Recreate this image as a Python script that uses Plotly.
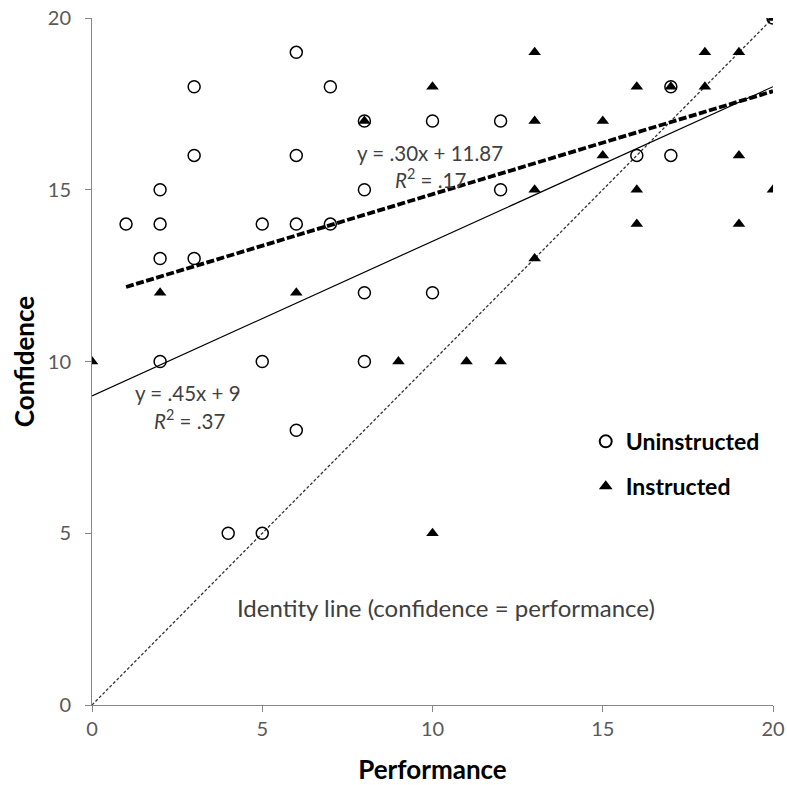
import plotly.graph_objects as go

# Uninstructed (open circles)
uninstr_perf = [1, 2, 2, 2, 2, 3, 3, 3, 4, 5, 5, 5, 6, 6, 6, 6, 7, 7, 8, 8, 8, 8, 10, 10, 12, 12, 16, 17, 17, 20]
uninstr_conf = [14, 15, 14, 13, 10, 18, 16, 13, 5, 14, 10, 5, 19, 16, 14, 8, 18, 14, 17, 15, 12, 10, 17, 12, 17, 15, 16, 18, 16, 20]

# Instructed (filled triangles)
instr_perf = [0, 2, 6, 8, 9, 10, 10, 11, 12, 13, 13, 13, 13, 15, 15, 16, 16, 16, 17, 18, 18, 19, 19, 19, 20, 20]
instr_conf = [10, 12, 12, 17, 10, 18, 5, 10, 10, 19, 17, 15, 13, 17, 16, 18, 15, 14, 18, 19, 18, 19, 16, 14, 20, 15]

# Trend line coefficients (slope, intercept)
uninstr_fit = (0.30, 11.87)
instr_fit = (0.45, 9.0)

x_ticks = [0, 5, 10, 15, 20]
y_ticks = [0, 5, 10, 15, 20]

FONT = "Lato, 'Open Sans', sans-serif"

fig = go.Figure()

# identity line
fig.add_trace(go.Scatter(x=[x_ticks[0], x_ticks[-1]], y=[y_ticks[0], y_ticks[-1]], mode="lines",
                         line=dict(color="#333333", width=1.3, dash="3px,2px"),
                         showlegend=False, hoverinfo="skip"))

# trend lines spanning data range
ux = [min(uninstr_perf), max(uninstr_perf)]
fig.add_trace(go.Scatter(x=ux, y=[uninstr_fit[0] * v + uninstr_fit[1] for v in ux], mode="lines",
                         line=dict(color="black", width=3.8, dash="8px,2.5px"),
                         showlegend=False, hoverinfo="skip"))
ix = [min(instr_perf), max(instr_perf)]
fig.add_trace(go.Scatter(x=ix, y=[instr_fit[0] * v + instr_fit[1] for v in ix], mode="lines",
                         line=dict(color="black", width=1.2),
                         showlegend=False, hoverinfo="skip"))

fig.add_trace(go.Scatter(x=uninstr_perf, y=uninstr_conf, mode="markers", name="Uninstructed",
                         legendgroup="a",
                         marker=dict(symbol="circle-open", size=12, color="black", line=dict(width=1.5))))
fig.add_trace(go.Scatter(x=instr_perf, y=instr_conf, mode="markers", name="Instructed",
                         legendgroup="b",
                         marker=dict(symbol="triangle-up", size=11, color="black")))

txt = dict(family=FONT, size=20.5, color="#404040")
fig.add_annotation(x=7.72, y=16.07, xref="x", yref="y", text="y = .30x + 11.87", showarrow=False,
                   xanchor="left", yanchor="middle", font=txt)
fig.add_annotation(x=8.84, y=15.34, xref="x", yref="y", text="<i>R</i><sup>2</sup> = .17", showarrow=False,
                   xanchor="left", yanchor="middle", font=txt)
fig.add_annotation(x=1.2, y=9.08, xref="x", yref="y", text="y = .45x + 9", showarrow=False,
                   xanchor="left", yanchor="middle", font=txt)
fig.add_annotation(x=1.76, y=8.3, xref="x", yref="y", text="<i>R</i><sup>2</sup> = .37", showarrow=False,
                   xanchor="left", yanchor="middle", font=txt)
fig.add_annotation(x=4.2, y=2.85, xref="x", yref="y", text="Identity line (confidence = performance)",
                   showarrow=False, xanchor="left", yanchor="middle",
                   font=dict(family=FONT, size=24, color="#404040"))

axis_common = dict(showgrid=False, zeroline=False, showline=True, linecolor="#868686", linewidth=1,
                   ticks="outside", ticklen=6, tickcolor="#868686", automargin=False,
                   tickfont=dict(family=FONT, size=20, color="#595959"))

fig.update_xaxes(range=[0, 20], tickvals=x_ticks, **axis_common,
                 title=dict(text="<b>Performance</b>", font=dict(family=FONT, size=26, color="black"), standoff=23))
fig.update_yaxes(range=[0, 20], tickvals=y_ticks, **axis_common, ticklabelstandoff=10,
                 title=dict(text="<b>Confidence</b>", font=dict(family=FONT, size=26, color="black"), standoff=5))

fig.update_layout(
    width=787, height=785,
    margin=dict(l=92, r=14, t=18, b=80),
    plot_bgcolor="white", paper_bgcolor="white",
    font=dict(family=FONT),
    legend=dict(x=0.725, y=0.415, xanchor="left", yanchor="top",
                font=dict(family=FONT, size=23, color="black", weight="bold"),
                bgcolor="rgba(0,0,0,0)", traceorder="grouped", tracegroupgap=12,
                itemsizing="constant"),
)

fig.write_html(
    "out.html",
    config={"displayModeBar": False},
    post_script="document.body.style.margin='0';document.body.style.overflow='hidden';"
                "document.documentElement.style.overflow='hidden';",
)
